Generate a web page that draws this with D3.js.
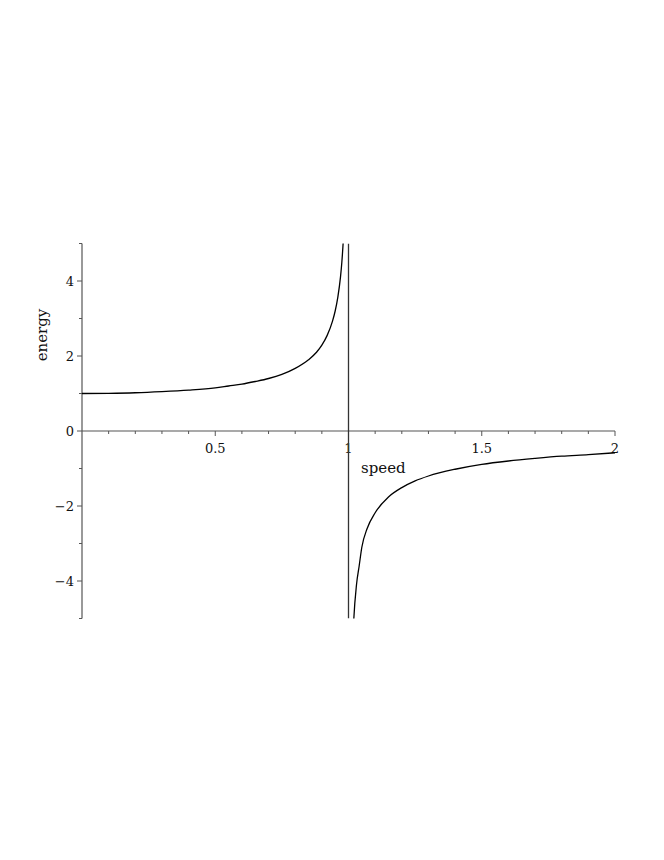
<!DOCTYPE html>
<html>
<head>
<meta charset="utf-8">
<script src="https://cdn.jsdelivr.net/npm/d3@7"></script>
<style>
  body { margin: 0; background: #fff; }
  text { font-family: "DejaVu Serif", "Liberation Serif", serif; }
</style>
</head>
<body>
<div id="plot"></div>
<script>
// values
const speedLow = [0, 0.1, 0.2, 0.3, 0.4, 0.5, 0.55, 0.6, 0.65, 0.7, 0.75, 0.8, 0.85, 0.88, 0.9, 0.92, 0.94, 0.95, 0.96, 0.97, 0.975, 0.98, 0.985];
const energyLow = [1.0, 1.005, 1.02, 1.05, 1.09, 1.15, 1.2, 1.25, 1.32, 1.4, 1.51, 1.67, 1.9, 2.1, 2.29, 2.55, 2.93, 3.2, 3.57, 4.11, 4.5, 5.03, 5.8];
const speedHigh = [1.014, 1.02, 1.03, 1.04, 1.05, 1.07, 1.1, 1.15, 1.2, 1.25, 1.3, 1.4, 1.5, 1.6, 1.7, 1.8, 1.9, 2.0];
const energyHigh = [-6.0, -5.0, -4.1, -3.6, -3.1, -2.6, -2.18, -1.76, -1.51, -1.33, -1.2, -1.02, -0.89, -0.8, -0.73, -0.67, -0.63, -0.58];
// the joining stroke across speed = 1
const speedJump = [1.0, 1.0];
const energyJump = [5, -5];

const xTicks = [0.5, 1, 1.5, 2];
const xMinor = [0.1, 0.2, 0.3, 0.4, 0.6, 0.7, 0.8, 0.9, 1.1, 1.2, 1.3, 1.4, 1.6, 1.7, 1.8, 1.9];
const yTicks = [-4, -2, 0, 2, 4];
const yMinor = [-5, -3, -1, 1, 3, 5];

const W = 664, H = 860;
const svg = d3.select("#plot").append("svg")
  .attr("width", W).attr("height", H);

const x = d3.scaleLinear().domain([0, 2]).range([82, 615]);
const y = d3.scaleLinear().domain([-5, 5]).range([618.5, 243.5]);

const axisColor = "#555";

svg.append("defs").append("clipPath").attr("id", "clip")
  .append("rect")
  .attr("x", x(0)).attr("y", y(5))
  .attr("width", x(2) - x(0) + 2).attr("height", y(-5) - y(5));

// x axis
const gx = svg.append("g");
gx.append("line")
  .attr("x1", x(0)).attr("x2", x(2))
  .attr("y1", y(0)).attr("y2", y(0))
  .attr("stroke", axisColor).attr("stroke-width", 1.2);
gx.selectAll(".xminor").data(xMinor).enter().append("line")
  .attr("x1", d => x(d)).attr("x2", d => x(d))
  .attr("y1", y(0)).attr("y2", y(0) + 3)
  .attr("stroke", axisColor);
gx.selectAll(".xmajor").data(xTicks).enter().append("line")
  .attr("x1", d => x(d)).attr("x2", d => x(d))
  .attr("y1", y(0)).attr("y2", y(0) + 5)
  .attr("stroke", axisColor);
gx.selectAll(".xlabel").data(xTicks).enter().append("text")
  .attr("x", d => x(d))
  .attr("y", y(0) + 22)
  .attr("text-anchor", "middle")
  .attr("font-size", "13px")
  .attr("fill", "#111")
  .text(d => d3.format("")(d));

// y axis
const gy = svg.append("g");
gy.append("line")
  .attr("x1", x(0)).attr("x2", x(0))
  .attr("y1", y(5)).attr("y2", y(-5))
  .attr("stroke", axisColor).attr("stroke-width", 1.2);
gy.selectAll(".yminor").data(yMinor).enter().append("line")
  .attr("x1", x(0) - 3).attr("x2", x(0))
  .attr("y1", d => y(d)).attr("y2", d => y(d))
  .attr("stroke", axisColor);
gy.selectAll(".ymajor").data(yTicks).enter().append("line")
  .attr("x1", x(0) - 5).attr("x2", x(0))
  .attr("y1", d => y(d)).attr("y2", d => y(d))
  .attr("stroke", axisColor);
gy.selectAll(".ylabel").data(yTicks).enter().append("text")
  .attr("x", x(0) - 8)
  .attr("y", d => y(d) + 5)
  .attr("text-anchor", "end")
  .attr("font-size", "13px")
  .attr("fill", "#111")
  .text(d => d < 0 ? "\u2212" + Math.abs(d) : d);

// curve
const line = d3.line()
  .x(d => x(d[0]))
  .y(d => y(d[1]))
  .curve(d3.curveMonotoneX);

const plot = svg.append("g").attr("clip-path", "url(#clip)");
plot.append("path")
  .datum(d3.zip(speedLow, energyLow))
  .attr("d", line)
  .attr("fill", "none").attr("stroke", "#000").attr("stroke-width", 1.3);
plot.append("path")
  .datum(d3.zip(speedHigh, energyHigh))
  .attr("d", line)
  .attr("fill", "none").attr("stroke", "#000").attr("stroke-width", 1.3);
plot.append("path")
  .datum(d3.zip(speedJump, energyJump))
  .attr("d", d3.line().x(d => x(d[0])).y(d => y(d[1])))
  .attr("fill", "none").attr("stroke", "#333").attr("stroke-width", 1.3);

// axis titles
svg.append("text")
  .attr("x", 361).attr("y", 473)
  .attr("font-size", "15px")
  .attr("fill", "#111")
  .text("speed");

svg.append("text")
  .attr("transform", `translate(47,${335}) rotate(-90)`)
  .attr("text-anchor", "middle")
  .attr("font-size", "15px")
  .attr("fill", "#111")
  .text("energy");
</script>
</body>
</html>
